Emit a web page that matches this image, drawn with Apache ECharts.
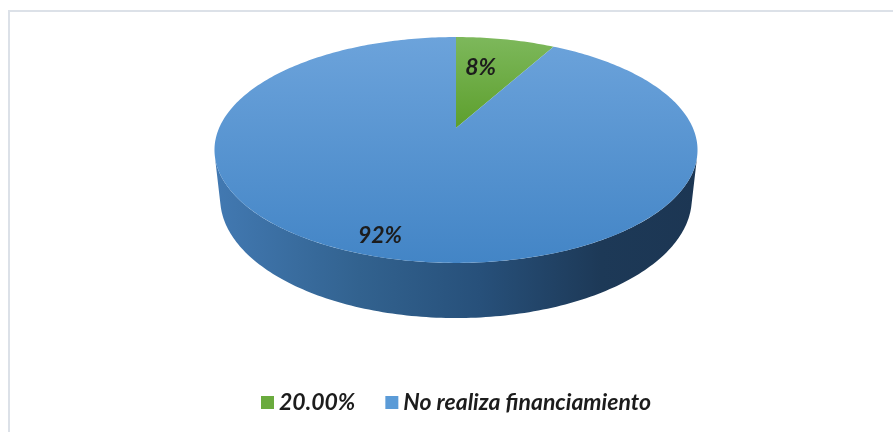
<!DOCTYPE html>
<html>
<head>
<meta charset="utf-8">
<script src="https://cdn.jsdelivr.net/npm/echarts@6/dist/echarts.min.js"></script>
<style>
  html, body { margin: 0; padding: 0; background: #ffffff; }
  #chart { width: 893px; height: 432px; }
</style>
</head>
<body>
<div id="chart"></div>
<script>
// Categories and their shares
const categories = ['20.00%', 'No realiza financiamiento'];
const values = [8, 92];

// Flat colours used by the legend swatches
const legendColors = ['#6aab3e', '#5b9bd7'];

// Shading for each slice: top face (light -> dark) and the rim
const topShades = [['#7db85b', '#5d9f2d'], ['#6ca3db', '#4385c6']];
const rimShades = [
  [[0, '#6a9a45'], [1, '#3f6b22']],
  [[0, '#4279b2'], [0.3, '#32628f'], [0.55, '#27507a'], [0.8, '#1d3957'], [1, '#1c3653']]
];

// Camera model of a tilted disc of radius 1, seen in perspective
const view = {
  cx: 456, cy: 128,
  dist: 4.566, focal: 1081.7,
  tilt: 27.3 * Math.PI / 180,
  thickness: 0.232,
  labelRadius: 0.78
};
const FONT = 'italic bold 23px Lato';

function project(X, Z, h) {
  const c = Math.cos(view.tilt), s = Math.sin(view.tilt);
  const depth = view.dist + Z * c - h * s;
  return [view.cx + view.focal * X / depth, view.cy - view.focal * (Z * s + h * c) / depth];
}
function rimPoint(theta, h, r) {
  const rr = r == null ? 1 : r;
  return project(rr * Math.sin(theta), rr * Math.cos(theta), h);
}
function arc(a, b, h) {
  const pts = [];
  const n = Math.max(2, Math.ceil(Math.abs(b - a) / (Math.PI / 180)));
  for (let i = 0; i <= n; i++) pts.push(rimPoint(a + (b - a) * i / n, h));
  return pts;
}

const total = values.reduce((s, v) => s + v, 0);
const starts = [];
values.reduce((acc, v) => { starts.push(acc); return acc + v; }, 0);

// Visible part of the rim: between the two silhouette generators
const silCos = -1 / (view.dist * Math.cos(view.tilt));
const visFrom = Math.acos(silCos);
const visTo = 2 * Math.PI - visFrom;

function renderSlice(params) {
  const i = params.dataIndex;
  const a0 = starts[i] / total * 2 * Math.PI;
  const a1 = (starts[i] + values[i]) / total * 2 * Math.PI;
  const children = [];

  // rim (side wall)
  const s0 = Math.max(a0, visFrom), s1 = Math.min(a1, visTo);
  if (s1 > s0) {
    const top = arc(s0, s1, 0);
    const bottom = arc(s1, s0, -view.thickness);
    const xl = rimPoint(visTo, 0)[0], xr = rimPoint(visFrom, 0)[0];
    children.push({
      type: 'polygon', z2: 1,
      shape: { points: top.concat(bottom) },
      style: {
        fill: new echarts.graphic.LinearGradient(xl, 0, xr, 0,
          rimShades[i].map(st => ({ offset: st[0], color: st[1] })), true)
      }
    });
  }

  // top face
  const centre = project(0, 0, 0);
  const pts = [centre].concat(arc(a0, a1, 0));
  const yTop = rimPoint(0, 0)[1];
  const yBot = rimPoint(Math.PI, 0)[1];
  const fullFace = (a1 - a0) > Math.PI;
  children.push({
    type: 'polygon', z2: 5,
    shape: { points: pts },
    style: {
      fill: fullFace
        ? new echarts.graphic.LinearGradient(0, yTop, 0, yBot,
            [{ offset: 0, color: topShades[i][0] }, { offset: 1, color: topShades[i][1] }], true)
        : new echarts.graphic.LinearGradient(0, 0, 0, 1,
            [{ offset: 0, color: topShades[i][0] }, { offset: 1, color: topShades[i][1] }])
    }
  });

  // percentage label on the face, hung below-left of its anchor
  const mid = (a0 + a1) / 2;
  const lp = rimPoint(mid, 0, view.labelRadius);
  children.push({
    type: 'text', z2: 10,
    x: lp[0], y: lp[1],
    style: {
      text: Math.round(values[i] / total * 100) + '%',
      font: FONT, fill: '#1c1c1c',
      align: 'right', verticalAlign: 'top'
    }
  });

  return { type: 'group', children: children };
}

const chart = echarts.init(document.getElementById('chart'), null, { renderer: 'canvas' });
chart.setOption({
  animation: false,
  backgroundColor: '#ffffff',
  graphic: [{
    type: 'rect', silent: true,
    shape: { x: 9, y: 11, width: 920, height: 440 },
    style: { fill: 'none', stroke: '#dce1e8', lineWidth: 2 }
  }],
  legend: {
    left: 256, top: 386,
    selectedMode: false,
    icon: 'rect', itemWidth: 13, itemHeight: 13, itemGap: 30,
    textStyle: { fontFamily: 'Lato', fontStyle: 'italic', fontWeight: 'bold', fontSize: 23, color: '#1c1c1c' },
    data: categories
  },
  series: [
    {
      // carries the legend entries
      type: 'pie', silent: true, radius: [0, 0], center: [-100, -100],
      label: { show: false }, labelLine: { show: false },
      data: categories.map((name, i) => ({ name: name, value: values[i], itemStyle: { color: legendColors[i] } }))
    },
    {
      type: 'custom', coordinateSystem: 'none', silent: true,
      renderItem: renderSlice,
      data: values.map((v, i) => ({ name: categories[i], value: v }))
    }
  ]
});
</script>
</body>
</html>
